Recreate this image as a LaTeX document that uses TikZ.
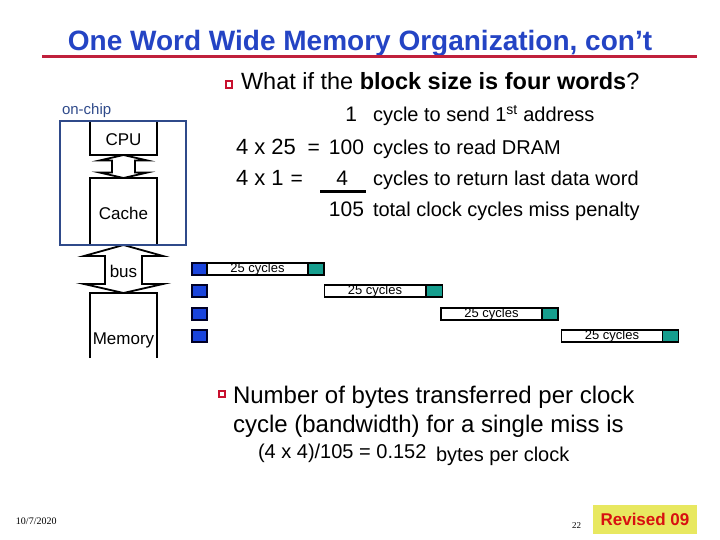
\documentclass[tikz,border=0pt]{standalone}
\usepackage{fontspec}
\setmainfont{Liberation Sans}
\newfontfamily\timesfont{Liberation Serif}
\definecolor{titleblue}{HTML}{2444C4}
\definecolor{rulered}{HTML}{C0203C}
\definecolor{chipblue}{HTML}{2F4A8A}
\definecolor{sqblue}{HTML}{1A44DD}
\definecolor{sqteal}{HTML}{169E8E}
\definecolor{bulletred}{HTML}{C8102E}
\definecolor{revyellow}{HTML}{E8E860}
\definecolor{revred}{HTML}{D81010}
\newcommand{\fsz}[1]{\fontsize{#1}{#1}\selectfont}
\begin{document}
\begin{tikzpicture}[x=1pt,y=-1pt,
  txt/.style={inner sep=0pt, outer sep=0pt, anchor=base west},
  txte/.style={inner sep=0pt, outer sep=0pt, anchor=base east},
  hwbox/.style={draw, line width=1.8pt, fill=white, inner sep=0pt, outer sep=0pt},
  blockarrow/.style={draw, line width=1.8pt, fill=white, line join=miter},
  addr/.style={draw=black!85!blue, line width=1.3pt, fill=sqblue, minimum width=15, minimum height=12, inner sep=0pt},
  dataret/.style={draw=black, line width=1.3pt, fill=sqteal, minimum width=16, minimum height=12, inner sep=0pt},
  dram/.style={draw=black, line width=1.5pt, fill=white, minimum width=101, minimum height=12, inner sep=0pt,
               font=\fsz{13}, text height=8.5, text depth=2.5},
  bulletsq/.style={draw=bulletred, line width=1.6pt, fill=white, minimum size=6.5, inner sep=0pt},
  calc/.style={font=\fsz{20}},
  calcnum/.style={font=\fsz{21}},
  boxlabel/.style={inner sep=0pt, anchor=base, font=\fsz{17}}
]
\useasboundingbox (0,0) rectangle (720,540);

% title
\node[inner sep=0pt, anchor=base, font=\bfseries\fsz{28}, text=titleblue] (title) at (360,51) {One Word Wide Memory Organization, con’t};
\draw[rulered, line width=3pt] (42,57) -- (697,57);

% bullet 1
\node[bulletsq] (bul1) at (229,84.5) {};
\node[txt, font=\fsz{23.5}] (q1) at (241,90) {What if the \textbf{block size is four words}?};

% hardware
\node[txt, font=\fsz{15}, text=chipblue] (onchiplbl) at (62,115) {on-chip};
\node[hwbox, minimum width=67, minimum height=34] (cpu) at (123.5,138) {};
\node[hwbox, minimum width=67, minimum height=67] (cache) at (123.5,211.5) {};
\node[inner sep=0pt, outer sep=0pt, minimum width=67, minimum height=65] (mem) at (123.5,325.5) {};
\draw[line width=1.8pt] (mem.south west) -- (mem.north west) -- (mem.north east) -- (mem.south east);

% CPU <-> cache arrow
\draw[blockarrow] (cpu.south) -- ++(24,5.5) -- ++(-12.5,0) -- ++(0,12) -- ++(12.5,0) -- (cache.north)
  -- ++(-24,-5.5) -- ++(12.5,0) -- ++(0,-12) -- ++(-12.5,0) -- cycle;
% bus arrow
\draw[blockarrow] (cache.south) -- ++(39.5,11) -- ++(-21,0) -- ++(0,28) -- ++(21,0) -- (mem.north)
  -- ++(-39.5,-9) -- ++(21,0) -- ++(0,-28) -- ++(-21,0) -- cycle;

\node[draw=chipblue, line width=1.6pt, inner sep=0pt, minimum width=126, minimum height=124] (chip) at (123,183) {};

\node[boxlabel] (cpulbl) at (cpu.center) [yshift=-8pt] {CPU};
\node[boxlabel] (cachelbl) at (123.5,219) {Cache};
\node[boxlabel] (buslbl) at (123.5,277.5) {bus};
\node[boxlabel] (memlbl) at (123.5,344) {Memory};

% calculation
\node[txte, calcnum] (n1) at (357,122) {1};
\node[txt, calc] (d1) at (373,122) {cycle to send 1\textsuperscript{st} address};
\node[txt, font=\fsz{22}] (l2) at (236,155) {4 x 25};
\node[txte, calcnum] (e2) at (320,155) {=};
\node[txte, calcnum] (n2) at (364,155) {100};
\node[txt, calc] (d2) at (373,155) {cycles to read DRAM};
\node[txt, font=\fsz{22}] (l3) at (236,186) {4 x 1};
\node[txte, calcnum] (e3) at (303,186) {=};
\node[txte, calcnum] (n3) at (348,186) {4};
\node[txt, calc] (d3) at (373,186) {cycles to return last data word};
\draw[line width=3pt] (320,192) -- (366,192);
\node[txte, calcnum] (n4) at (364,216) {105};
\node[txt, calc] (d4) at (373,216) {total clock cycles miss penalty};

% timing rows
\node[addr] (a1) at (199.5,269) {};
\node[dram] (r1) at (257.5,269) {25 cycles};
\node[dataret] (t1) at (316,269) {};
\node[addr] (a2) at (199.5,291) {};
\node[dram] (r2) at (375,291) {25 cycles};
\node[dataret] (t2) at (434.5,291) {};
\node[addr] (a3) at (199.5,314) {};
\node[dram] (r3) at (491.5,314) {25 cycles};
\node[dataret] (t3) at (550,314) {};
\node[addr] (a4) at (199.5,336) {};
\node[dram] (r4) at (612,336) {25 cycles};
\node[dataret] (t4) at (670.5,336) {};

% bullet 2
\node[bulletsq] (bul2) at (222,394) {};
\node[txt, font=\fsz{24}] (q2a) at (233,403) {Number of bytes transferred per clock};
\node[txt, font=\fsz{24}] (q2b) at (233,432) {cycle (bandwidth) for a single miss is};
\node[txt, font=\fsz{20}] (q2c) at (258,458) {(4 x 4)/105 = 0.152};
\node[txt, font=\fsz{20}] (q2d) at (436,461) {bytes per clock};

% footer
\node[txt, font=\timesfont\fsz{10}] (date) at (16,524) {10/7/2020};
\node[txt, font=\timesfont\fsz{9}] (page) at (572,528) {22};
\node[fill=revyellow, inner sep=0pt, minimum width=104, minimum height=29, text=revred, font=\bfseries\fsz{17}] (rev) at (645,519.5) {Revised 09};
\end{tikzpicture}
\end{document}
